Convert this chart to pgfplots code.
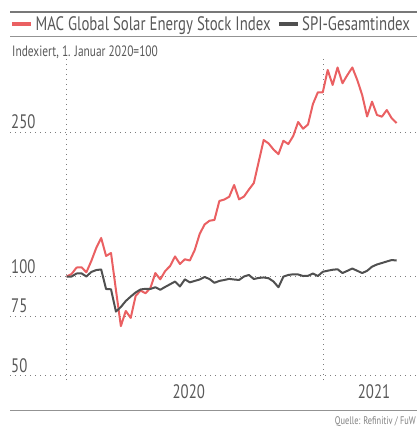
\documentclass[border=0pt]{standalone}
\usepackage{pgfplots}
\pgfplotsset{compat=1.18}
\usepackage{pgfplotstable}
\usepackage{fontspec}
\setmainfont{PT Sans}[FakeStretch=0.76]
\definecolor{solarred}{RGB}{234,96,98}
\definecolor{spigray}{RGB}{80,80,80}
\definecolor{txtgray}{RGB}{88,88,88}
\definecolor{gridgray}{RGB}{125,125,125}
\definecolor{rulegray}{RGB}{120,120,120}

% weekly values, week 0 = 1 Jan 2020, indexed to 100
\pgfplotstableread{
w v
0 100.0
1 102.6
2 109.3
3 109.6
4 104.4
5 116.1
6 129.6
7 140.0
8 121.3
9 124.4
10 91.5
11 70.8
12 78.2
13 74.2
14 87.7
15 91.1
16 89.4
17 92.7
18 103.6
19 98.2
20 105.7
21 110.9
22 120.8
23 113.0
24 117.9
25 116.6
26 127.5
27 144.1
28 154.0
29 157.9
30 158.7
31 178.4
32 179.9
33 182.8
34 195.0
35 180.1
36 183.0
37 190.3
38 197.0
39 219.4
40 241.7
41 238.1
42 231.8
43 227.0
44 240.9
45 237.5
46 245.9
47 260.4
48 253.4
49 257.8
50 279.1
51 291.2
52 291.2
53 314.4
54 298.8
55 317.0
56 300.6
57 309.2
58 317.0
59 304.0
60 288.4
61 266.1
62 281.5
63 267.7
64 265.9
65 272.8
66 264.2
67 259.3
}\solar

\pgfplotstableread{
w v
0 100.0
1 100.0
2 103.1
3 103.3
4 100.0
5 104.7
6 106.7
7 107.3
8 92.1
9 91.9
10 77.8
11 80.7
12 84.5
13 87.3
14 89.9
15 91.8
16 92.2
17 92.1
18 93.2
19 91.6
20 93.4
21 95.1
22 96.8
23 93.7
24 98.2
25 96.3
26 97.2
27 98.1
28 99.7
29 98.4
30 96.0
31 97.2
32 97.8
33 98.5
34 98.1
35 97.8
36 100.0
37 101.6
38 98.4
39 99.1
40 99.4
41 98.9
42 96.8
43 93.2
44 99.9
45 101.6
46 102.3
47 102.1
48 100.5
49 100.7
50 103.1
51 100.5
52 104.9
53 106.0
54 107.0
55 107.5
56 103.6
57 105.9
58 108.3
59 105.9
60 103.6
61 105.9
62 110.2
63 112.5
64 114.0
65 115.6
66 117.1
67 116.6
}\spi

\begin{document}
\begin{tikzpicture}[x=1bp,y=1bp]
\useasboundingbox (0,0) rectangle (417,427);
\begin{axis}[
  at={(10bp,47bp)}, anchor=south west,
  scale only axis, width=407bp, height=322bp,
  xmin=-11.51, xmax=71.13,
  ymin=48.333, ymax=326.83,
  y coord trafo/.code={\pgfmathparse{#1<75 ? (#1-50)*2.4 : (#1<100 ? 60+(#1-75)*1.58 : 99.5+(#1-100)*0.9633)}},
  axis line style={draw=none},
  major tick length=0pt,
  xtick={0,52.14}, xticklabels={,},
  xmajorgrids,
  extra x ticks={24.8,62.4},
  extra x tick labels={2020,2021},
  extra x tick style={xmajorgrids=false},
  xticklabel style={font=\fontsize{19.5bp}{20bp}\selectfont, text=txtgray, anchor=north, yshift=-1bp},
  ytick={50,75,100,250},
  yticklabels={50,75,100,250},
  ymajorgrids,
  yticklabel style={font=\fontsize{19.5bp}{20bp}\selectfont, text=txtgray, anchor=base west, inner sep=0pt, xshift=1bp, yshift=3.5bp},
  grid style={gridgray, line width=1bp, dash pattern=on 1bp off 4bp},
  clip=false,
  legend columns=2,
  legend style={at={(0,1.1056)}, anchor=west, draw=none, fill=none, inner sep=0pt,
    font=\fontsize{19.5bp}{20bp}\selectfont, text=txtgray,
    /tikz/every even column/.append style={column sep=4bp}},
  legend image code/.code={\draw[#1, line width=4.5bp] (0bp,0bp) -- (19bp,0bp);},
]
\addplot[solarred, line width=2bp, line join=round] table[x=w, y=v] {\solar};
\addlegendentry{MAC Global Solar Energy Stock Index}
\addplot[spigray, line width=2bp, line join=round] table[x=w, y=v] {\spi};
\addlegendentry{SPI-Gesamtindex}
\end{axis}
\draw[rulegray, line width=2bp] (10,415) -- (417,415);
\draw[rulegray!80, line width=0.8bp] (10,391) -- (417,391);
\draw[rulegray!80, line width=0.8bp] (10,16.3) -- (417,16.3);
\node[anchor=base west, inner sep=0pt, text=txtgray, font=\fontsize{15bp}{16bp}\selectfont] at (12,371) {Indexiert, 1. Januar 2020=100};
\node[anchor=base east, inner sep=0pt, text=gray, font=\fontsize{11bp}{12bp}\selectfont] at (416,2.7) {Quelle: Refinitiv / FuW};
\end{tikzpicture}
\end{document}
